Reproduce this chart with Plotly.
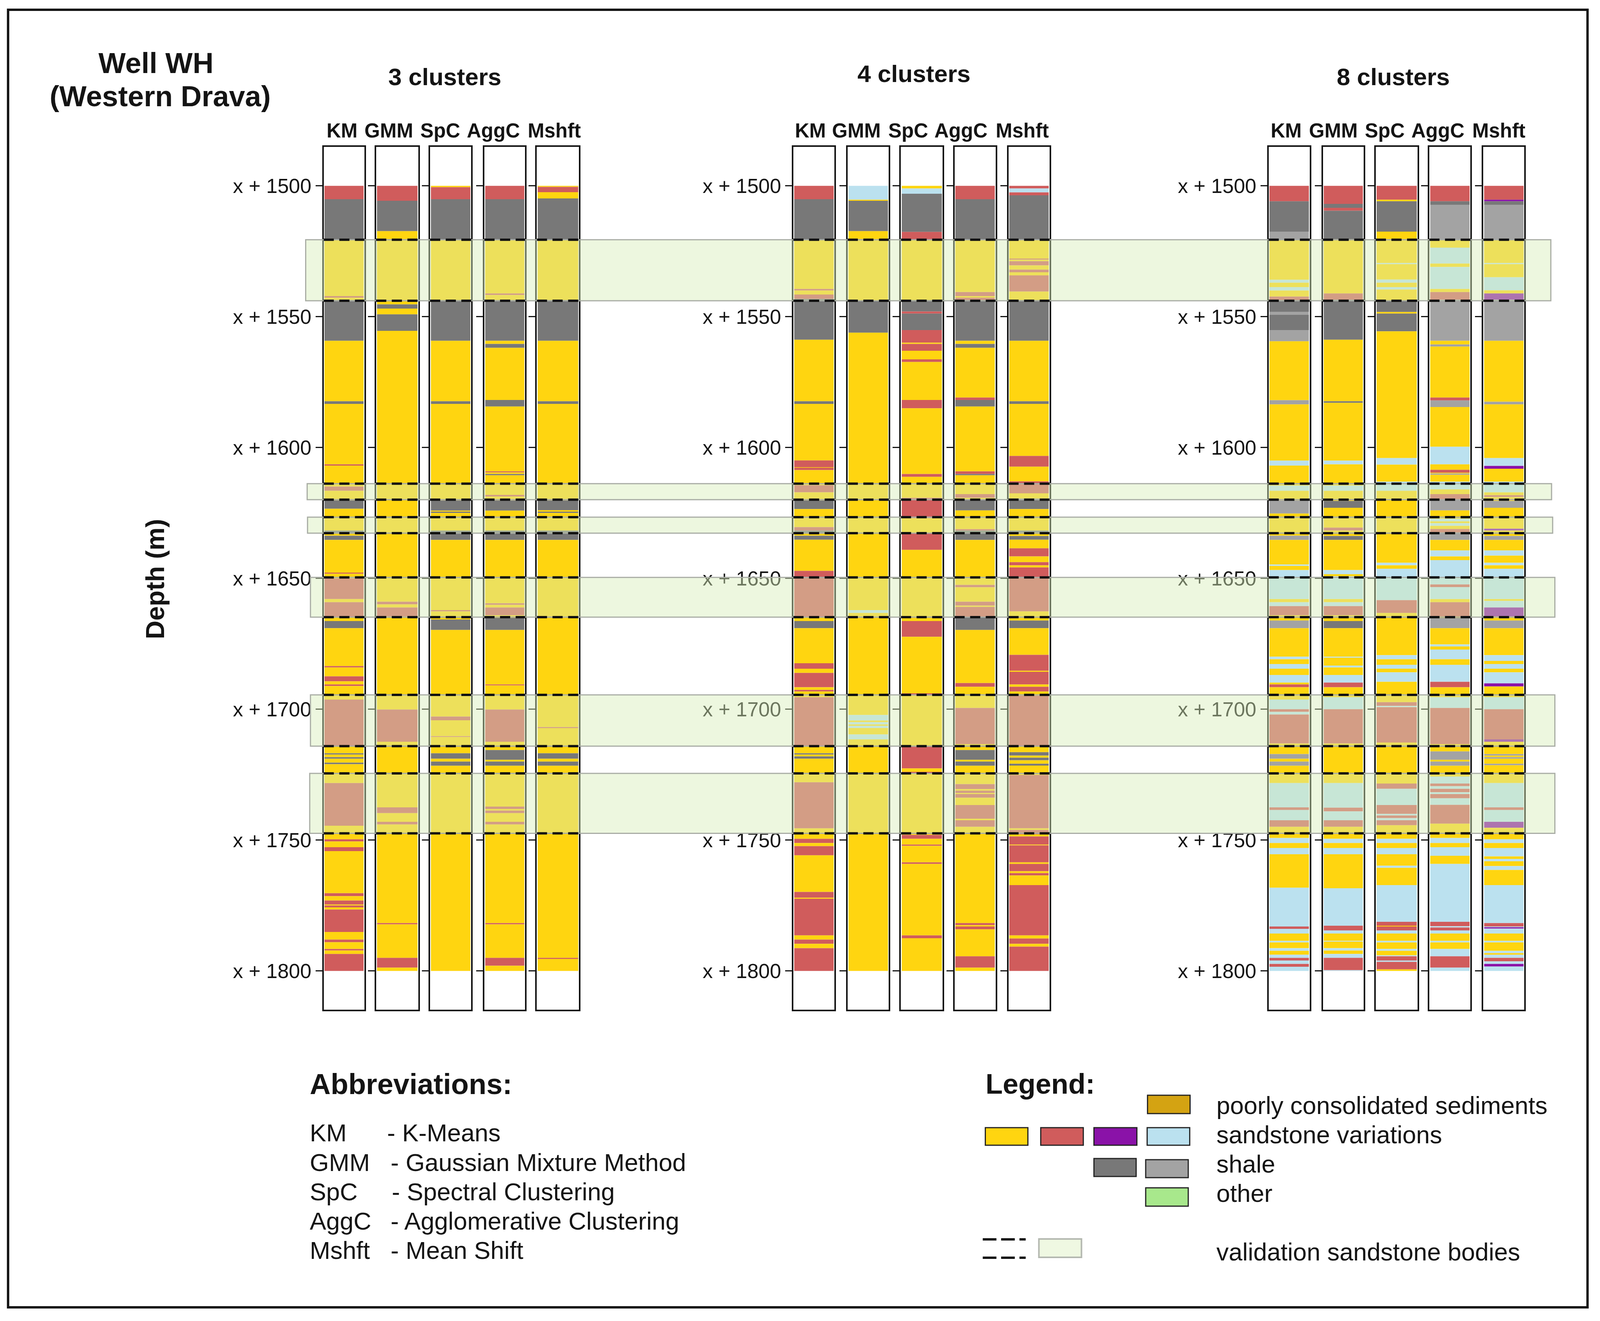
import plotly.graph_objects as go
from plotly.subplots import make_subplots

# layout numbers below are pixels of the 4360x3382 reference
W, H = 4360, 3382

# depth axis
TICK_VALUES = [1500, 1550, 1600, 1650, 1700, 1750, 1800]
TICK_LABELS = ["x + 1500", "x + 1550", "x + 1600", "x + 1650", "x + 1700", "x + 1750", "x + 1800"]
METHODS = ["KM", "GMM", "SpC", "AggC", "Mshft"]
GROUP_TITLES = ["3 clusters", "4 clusters", "8 clusters"]
END_DEPTH = 1800

# validation sandstone bodies, top and bottom depth
BAND_TOPS = [1520.6, 1613.8, 1626.6, 1649.6, 1694.5, 1724.5]
BAND_BOTTOMS = [1543.9, 1619.9, 1632.7, 1664.8, 1714.1, 1747.4]

# lithology colours: Y R P B sandstone variations, D L shale
COLORS = {"Y": "#FFD510", "R": "#D05C5C", "P": "#8A12A8", "B": "#BBE1EF", "D": "#787878", "L": "#A3A3A3"}

# each interval is (top depth, class), it ends where the next one starts
c3_km = [(1500,"R"),(1505.1,"D"),(1520.6,"Y"),(1542.1,"R"),(1542.7,"Y"),(1543.6,"D"),(1559.2,"Y"),(1582.3,"D"),(1583.3,"Y"),(1606.4,"R"),(1606.9,"Y"),(1614.9,"R"),(1616.5,"Y"),(1620.2,"D"),(1623.4,"Y"),(1631.7,"D"),(1632.6,"Y"),(1633.7,"D"),(1635.3,"Y"),(1647.8,"R"),(1648.2,"Y"),(1650,"R"),(1657.9,"Y"),(1659.1,"R"),(1664.8,"Y"),(1666.3,"D"),(1669,"Y"),(1683.5,"R"),(1684,"Y"),(1687.4,"R"),(1689.3,"Y"),(1690.5,"R"),(1691.1,"Y"),(1696.3,"R"),(1714,"Y"),(1716.8,"D"),(1717.3,"Y"),(1718.3,"D"),(1718.9,"Y"),(1720.4,"D"),(1721,"Y"),(1728.2,"R"),(1744.5,"Y"),(1749.7,"R"),(1750.5,"Y"),(1752.7,"R"),(1754.2,"Y"),(1770.3,"R"),(1771.4,"Y"),(1773.1,"R"),(1774.6,"Y"),(1775,"R"),(1775.7,"Y"),(1776.5,"R"),(1785.1,"Y"),(1788,"R"),(1789,"Y"),(1791.6,"R"),(1792.2,"Y"),(1793.5,"R")]
c3_gmm = [(1500,"R"),(1505.7,"D"),(1517.3,"Y"),(1545.3,"D"),(1546.9,"Y"),(1549.1,"D"),(1555.4,"Y"),(1658.9,"R"),(1659.9,"Y"),(1661.1,"R"),(1664.5,"Y"),(1700.1,"R"),(1712.4,"Y"),(1737.5,"R"),(1739.7,"Y"),(1743,"R"),(1744,"Y"),(1781.7,"R"),(1782.2,"Y"),(1795,"R"),(1798.7,"Y")]
c3_spc = [(1500,"Y"),(1500.5,"R"),(1505.1,"D"),(1520.6,"Y"),(1543.6,"D"),(1559.2,"Y"),(1582.3,"D"),(1583.3,"Y"),(1620.2,"D"),(1624.1,"Y"),(1624.5,"D"),(1625,"Y"),(1631.7,"D"),(1635.3,"Y"),(1662.1,"R"),(1662.6,"Y"),(1665.7,"D"),(1669.7,"Y"),(1702.8,"R"),(1704.2,"Y"),(1710.3,"R"),(1710.6,"Y"),(1716.8,"D"),(1718.9,"Y"),(1720,"D"),(1721.6,"Y")]
c3_aggc = [(1500,"R"),(1505.1,"D"),(1520.6,"Y"),(1541.1,"R"),(1541.7,"Y"),(1543.6,"D"),(1559.2,"Y"),(1560.4,"D"),(1561.9,"Y"),(1581.8,"D"),(1584.3,"Y"),(1609.1,"R"),(1609.5,"Y"),(1610.1,"D"),(1610.6,"Y"),(1618.1,"R"),(1618.7,"Y"),(1620.2,"D"),(1624.1,"Y"),(1631.7,"D"),(1635.3,"Y"),(1659.5,"R"),(1660.1,"Y"),(1661.1,"R"),(1664.1,"Y"),(1665.1,"D"),(1669.7,"Y"),(1690.5,"R"),(1690.9,"Y"),(1700.1,"R"),(1712.4,"Y"),(1715.6,"D"),(1719.3,"Y"),(1720,"D"),(1721.6,"Y"),(1737.2,"R"),(1738.1,"Y"),(1738.7,"R"),(1739.7,"Y"),(1743,"R"),(1744,"Y"),(1781.7,"R"),(1782.2,"Y"),(1795,"R"),(1798,"Y")]
c3_mshft = [(1500,"Y"),(1500.4,"R"),(1502.4,"Y"),(1504.8,"D"),(1520.6,"Y"),(1543.6,"D"),(1559.2,"Y"),(1582.3,"D"),(1583.3,"Y"),(1620.2,"D"),(1623.9,"Y"),(1624.5,"D"),(1625,"Y"),(1631.7,"D"),(1635.3,"Y"),(1706.8,"R"),(1707.2,"Y"),(1716.8,"D"),(1718.9,"Y"),(1720,"D"),(1721.6,"Y"),(1795,"R"),(1795.4,"Y")]

c4_km = [(1500,"R"),(1505.1,"D"),(1520.6,"Y"),(1539.4,"R"),(1540,"Y"),(1541.5,"R"),(1543.2,"D"),(1558.8,"Y"),(1582.3,"D"),(1583.3,"Y"),(1604.9,"R"),(1607.5,"Y"),(1607.7,"R"),(1608.6,"Y"),(1614.4,"R"),(1617.1,"Y"),(1620.2,"D"),(1623.5,"Y"),(1630.4,"R"),(1631.7,"D"),(1632.6,"Y"),(1633.7,"D"),(1635.2,"Y"),(1647.1,"R"),(1664.8,"Y"),(1666.3,"D"),(1669,"Y"),(1682.4,"R"),(1684.5,"Y"),(1686.1,"R"),(1691.6,"Y"),(1692.6,"R"),(1693.2,"Y"),(1695.4,"R"),(1714,"Y"),(1716.8,"D"),(1717.3,"Y"),(1718,"D"),(1718.9,"Y"),(1727.9,"R"),(1745.5,"Y"),(1749.5,"R"),(1751.1,"Y"),(1752.3,"R"),(1755.8,"Y"),(1769.8,"R"),(1772,"Y"),(1772.4,"R"),(1786.4,"Y"),(1788,"R"),(1789.6,"Y"),(1791.3,"R")]
c4_gmm = [(1500,"B"),(1505.3,"Y"),(1505.7,"D"),(1517.3,"Y"),(1543.9,"D"),(1556.1,"Y"),(1662.1,"B"),(1663.2,"Y"),(1702.2,"B"),(1704.3,"Y"),(1704.9,"B"),(1705.8,"Y"),(1706.3,"B"),(1707.2,"Y"),(1709.6,"B"),(1711.5,"Y")]
c4_spc = [(1500,"Y"),(1501,"B"),(1503,"D"),(1517.6,"R"),(1520.6,"Y"),(1543.6,"D"),(1548,"R"),(1548.8,"D"),(1555.1,"R"),(1559.9,"Y"),(1560.4,"R"),(1563,"Y"),(1566.3,"R"),(1567.3,"Y"),(1581.8,"R"),(1585,"Y"),(1610.1,"R"),(1611.2,"Y"),(1619.2,"R"),(1627,"Y"),(1632.7,"R"),(1639.1,"Y"),(1666.3,"R"),(1672.3,"Y"),(1693.9,"R"),(1694.8,"Y"),(1714.3,"R"),(1722.6,"Y"),(1723.9,"R"),(1724.7,"Y"),(1748,"R"),(1749.5,"Y"),(1751.7,"R"),(1752.2,"Y"),(1758.5,"R"),(1759.1,"Y"),(1786.4,"R"),(1787.5,"Y")]
c4_aggc = [(1500,"R"),(1505.1,"D"),(1520.6,"Y"),(1540.6,"R"),(1542.1,"Y"),(1542.7,"R"),(1543.6,"D"),(1559.2,"Y"),(1560.4,"D"),(1561.9,"Y"),(1580.9,"R"),(1581.8,"D"),(1584.3,"Y"),(1609.1,"R"),(1610.1,"D"),(1610.6,"Y"),(1617.8,"R"),(1619.2,"Y"),(1619.9,"D"),(1624,"Y"),(1631.2,"R"),(1631.7,"D"),(1635.3,"Y"),(1652.5,"R"),(1653.4,"Y"),(1658.9,"R"),(1660.4,"Y"),(1660.9,"R"),(1664.8,"D"),(1669.7,"Y"),(1690,"R"),(1691.4,"Y"),(1699.5,"R"),(1713.3,"Y"),(1715.6,"D"),(1719.3,"Y"),(1720,"D"),(1721.6,"Y"),(1728.6,"R"),(1730.5,"Y"),(1731.1,"R"),(1732,"Y"),(1732.4,"R"),(1733.8,"Y"),(1736.6,"R"),(1741.8,"Y"),(1742.4,"R"),(1744.9,"Y"),(1781.7,"R"),(1782.5,"Y"),(1783,"R"),(1784.1,"Y"),(1794.4,"R"),(1798.7,"Y")]
c4_mshft = [(1500,"R"),(1501,"B"),(1502.5,"R"),(1503.6,"D"),(1520.6,"Y"),(1527.8,"R"),(1528.2,"Y"),(1528.8,"R"),(1530.4,"Y"),(1532,"R"),(1533,"Y"),(1534.2,"R"),(1540.4,"Y"),(1543.6,"D"),(1559.2,"Y"),(1582.3,"D"),(1583.3,"Y"),(1603.2,"R"),(1607.3,"Y"),(1612.9,"R"),(1617.5,"Y"),(1619.5,"D"),(1623.5,"Y"),(1631.7,"D"),(1632.4,"Y"),(1633.8,"D"),(1635.2,"Y"),(1638.5,"R"),(1641.6,"Y"),(1643.8,"R"),(1645,"Y"),(1645.8,"R"),(1662.6,"Y"),(1666.1,"D"),(1669,"Y"),(1679.2,"R"),(1685.3,"Y"),(1685.7,"R"),(1690.5,"Y"),(1691.4,"R"),(1693.2,"Y"),(1694.8,"R"),(1714,"Y"),(1716.4,"D"),(1717.7,"Y"),(1718.5,"D"),(1719.5,"Y"),(1720.8,"D"),(1721.5,"Y"),(1725.1,"R"),(1745.5,"Y"),(1746.1,"R"),(1747.8,"Y"),(1748.6,"R"),(1751.7,"Y"),(1752,"R"),(1758.5,"Y"),(1759.1,"R"),(1761.9,"Y"),(1762.6,"R"),(1763.5,"Y"),(1767.2,"R"),(1786.4,"Y"),(1787.6,"R"),(1789.6,"Y"),(1790.7,"R")]

c8_km = [(1500,"R"),(1505.9,"D"),(1517.5,"L"),(1520.6,"Y"),(1535.9,"B"),(1537,"Y"),(1538.7,"B"),(1540,"Y"),(1542.3,"R"),(1543.6,"D"),(1548.2,"L"),(1549.2,"D"),(1555.1,"L"),(1559.4,"Y"),(1581.9,"L"),(1583.5,"Y"),(1605,"B"),(1606.9,"Y"),(1614.5,"B"),(1616.5,"Y"),(1620.2,"L"),(1625.2,"Y"),(1633.7,"L"),(1635.3,"Y"),(1644.7,"B"),(1645.2,"Y"),(1646.8,"B"),(1657.9,"Y"),(1659.1,"B"),(1660.6,"R"),(1664.1,"Y"),(1666.1,"L"),(1669,"Y"),(1679.9,"B"),(1680.9,"Y"),(1682.7,"B"),(1684.5,"Y"),(1686.9,"B"),(1689.8,"Y"),(1690.5,"R"),(1691.6,"Y"),(1696.3,"B"),(1700,"R"),(1701,"B"),(1702,"R"),(1713.1,"Y"),(1717.1,"L"),(1718.9,"Y"),(1720,"L"),(1721.6,"Y"),(1728.2,"B"),(1737.5,"R"),(1738.5,"B"),(1742.4,"R"),(1744.9,"Y"),(1749.2,"B"),(1751.1,"Y"),(1753,"B"),(1755.4,"Y"),(1768.2,"B"),(1783,"R"),(1783.9,"B"),(1785.7,"Y"),(1788.5,"B"),(1789.1,"Y"),(1791.3,"B"),(1792.3,"Y"),(1793.8,"B"),(1795,"R"),(1796,"B"),(1797.3,"R"),(1798.4,"B")]
c8_gmm = [(1500,"R"),(1506.9,"D"),(1508.4,"R"),(1509.5,"D"),(1520.4,"Y"),(1541.1,"R"),(1543.5,"D"),(1558.8,"Y"),(1582.3,"D"),(1582.9,"Y"),(1605,"B"),(1606.4,"Y"),(1614.5,"B"),(1616.5,"Y"),(1620.4,"D"),(1623,"Y"),(1630.6,"R"),(1631.7,"Y"),(1633.8,"D"),(1635.3,"Y"),(1646.8,"B"),(1648.4,"Y"),(1649.2,"B"),(1657.9,"Y"),(1659.1,"B"),(1660.6,"R"),(1664.1,"Y"),(1666.3,"D"),(1669,"Y"),(1679.9,"B"),(1680.3,"Y"),(1683.3,"B"),(1684,"Y"),(1686.9,"B"),(1689.8,"R"),(1691.6,"Y"),(1695.4,"B"),(1700,"R"),(1713.1,"Y"),(1728.2,"B"),(1737.6,"R"),(1739,"B"),(1742.4,"R"),(1744.9,"Y"),(1749.5,"B"),(1751.1,"Y"),(1753,"B"),(1755.4,"Y"),(1768.4,"B"),(1782.7,"R"),(1784.5,"B"),(1785.7,"Y"),(1788.5,"B"),(1788.8,"Y"),(1791.3,"B"),(1792.2,"Y"),(1793.5,"B"),(1795,"R"),(1799.7,"B")]
c8_spc = [(1500,"R"),(1505.3,"Y"),(1505.9,"D"),(1517.5,"Y"),(1529.5,"B"),(1529.9,"Y"),(1535.8,"B"),(1537,"Y"),(1538.7,"B"),(1539.6,"Y"),(1543.9,"D"),(1548.2,"Y"),(1548.8,"D"),(1555.6,"Y"),(1604,"B"),(1606.5,"Y"),(1613,"B"),(1616.5,"Y"),(1644,"B"),(1645,"Y"),(1646.3,"B"),(1658.3,"R"),(1663.2,"Y"),(1679.3,"B"),(1680.9,"Y"),(1683,"B"),(1684.5,"Y"),(1685.9,"B"),(1689.5,"Y"),(1697.3,"R"),(1698.7,"B"),(1699.2,"R"),(1712.7,"Y"),(1728.4,"R"),(1730.4,"B"),(1736.6,"R"),(1740,"B"),(1740.6,"R"),(1741.6,"B"),(1742.4,"R"),(1744.3,"Y"),(1749.5,"B"),(1751.1,"Y"),(1753,"B"),(1755.4,"Y"),(1759.8,"B"),(1760.6,"Y"),(1767.2,"B"),(1781.2,"R"),(1782.7,"Y"),(1783,"R"),(1784.5,"B"),(1785.7,"Y"),(1788.5,"B"),(1789.1,"Y"),(1791.6,"B"),(1792.3,"Y"),(1794,"B"),(1794.4,"R"),(1796,"B"),(1796.5,"R"),(1799.4,"Y")]
c8_aggc = [(1500,"R"),(1505.9,"D"),(1507.3,"L"),(1520.6,"Y"),(1523.6,"B"),(1529.7,"Y"),(1531,"B"),(1539.4,"Y"),(1540.6,"R"),(1543.5,"L"),(1559.2,"Y"),(1560.6,"L"),(1561.4,"Y"),(1580.9,"R"),(1582,"L"),(1584.5,"Y"),(1599.7,"B"),(1606.4,"Y"),(1608.5,"R"),(1609.6,"Y"),(1609.9,"L"),(1610.4,"Y"),(1613,"B"),(1616,"Y"),(1617.8,"R"),(1619.9,"L"),(1624,"Y"),(1627.2,"B"),(1628.2,"Y"),(1628.9,"B"),(1629.9,"Y"),(1631.1,"R"),(1632.4,"L"),(1635.3,"Y"),(1639.3,"B"),(1641.6,"Y"),(1643,"B"),(1652.3,"R"),(1653.3,"B"),(1657.9,"Y"),(1659.1,"R"),(1664.5,"Y"),(1665.1,"L"),(1669,"Y"),(1675.2,"B"),(1676,"Y"),(1677.2,"B"),(1680.9,"Y"),(1683,"B"),(1689.5,"R"),(1691.6,"Y"),(1695.4,"B"),(1699.5,"R"),(1713.3,"Y"),(1716.1,"L"),(1719.3,"Y"),(1720,"L"),(1721.6,"Y"),(1725.7,"B"),(1728.4,"R"),(1729.4,"B"),(1730.4,"R"),(1731.7,"B"),(1732.4,"R"),(1734,"B"),(1736.5,"R"),(1743.7,"Y"),(1749.2,"B"),(1751.1,"Y"),(1752.7,"B"),(1756,"Y"),(1759.1,"B"),(1781.2,"R"),(1782.9,"B"),(1783.4,"R"),(1784.5,"B"),(1785.7,"Y"),(1788.5,"B"),(1789.1,"Y"),(1791.6,"B"),(1794.4,"R"),(1798.7,"B")]
c8_mshft = [(1500,"R"),(1505.3,"P"),(1505.9,"D"),(1507.3,"L"),(1520.6,"Y"),(1529.5,"B"),(1529.9,"Y"),(1534.9,"B"),(1539.9,"Y"),(1541.1,"P"),(1543.5,"L"),(1559.2,"Y"),(1582.5,"L"),(1583.5,"Y"),(1604,"B"),(1607,"P"),(1608.1,"Y"),(1613,"B"),(1617.1,"Y"),(1618.2,"R"),(1618.9,"Y"),(1620.4,"L"),(1623,"Y"),(1631,"P"),(1631.7,"Y"),(1633.8,"L"),(1635.3,"Y"),(1639.3,"B"),(1641.3,"Y"),(1644,"B"),(1645,"Y"),(1646.3,"B"),(1657.9,"Y"),(1658.6,"B"),(1661.1,"P"),(1664.5,"Y"),(1666.1,"L"),(1669,"Y"),(1679.3,"B"),(1681.5,"Y"),(1682.7,"B"),(1684.5,"Y"),(1685.9,"B"),(1690.1,"P"),(1691.3,"Y"),(1695.4,"B"),(1700,"R"),(1711.5,"P"),(1712.4,"Y"),(1717.1,"L"),(1717.7,"Y"),(1718.3,"L"),(1718.9,"Y"),(1720.8,"L"),(1721.4,"Y"),(1728.2,"B"),(1737.5,"R"),(1738.5,"B"),(1743,"P"),(1745.3,"Y"),(1749.7,"B"),(1751.1,"Y"),(1753,"B"),(1756.2,"Y"),(1757.2,"B"),(1758.1,"Y"),(1759.9,"B"),(1761.4,"Y"),(1767.2,"B"),(1781.7,"R"),(1783,"B"),(1783.3,"P"),(1783.8,"B"),(1785.7,"Y"),(1788.5,"B"),(1789.1,"Y"),(1792.3,"B"),(1793.2,"Y"),(1793.8,"B"),(1795,"R"),(1796.3,"B"),(1797.3,"P"),(1798.3,"B")]

COLUMNS = [c3_km, c3_gmm, c3_spc, c3_aggc, c3_mshft,
           c4_km, c4_gmm, c4_spc, c4_aggc, c4_mshft,
           c8_km, c8_gmm, c8_spc, c8_aggc, c8_mshft]

# legend and abbreviation texts
ABBR_SHORT = ["KM", "GMM", "SpC", "AggC", "Mshft"]
ABBR_LONG = ["- K-Means", "- Gaussian Mixture Method", "- Spectral Clustering", "- Agglomerative Clustering", "- Mean Shift"]
LEGEND_TEXT = ["poorly consolidated sediments", "sandstone variations", "shale", "other", "validation sandstone bodies"]

# layout in picture pixels
COL_X = [(882, 993), (1025, 1140), (1172, 1284), (1320, 1431), (1463, 1578),
         (2162, 2274), (2310, 2422), (2455, 2569), (2601, 2713), (2748, 2860),
         (3457, 3569), (3605, 3716), (3749, 3863), (3895, 4007), (4042, 4154)]
HEADER_X = [932, 1060, 1200, 1344, 1510, 2208, 2334, 2475, 2619, 2786, 3505, 3633, 3773, 3918, 4084]
COL_TOP, COL_BOTTOM = 376, 2585
Y_RANGE = [1814.8, 1485.1]
BAND_X = [(833, 4226), (837, 4228), (838, 4231), (846, 4237), (846, 4237), (844, 4237)]
INK = "#141414"
FONT = "Liberation Sans"


def px(x):
    return x / W


def py(y):
    return 1 - y / H


fig = make_subplots(rows=1, cols=15)

# validation bodies run across all columns, on top of the bars
for k in range(len(BAND_TOPS)):
    fig.add_shape(type="rect", xref="paper", yref="y", x0=px(BAND_X[k][0]), x1=px(BAND_X[k][1]),
                  y0=BAND_TOPS[k], y1=BAND_BOTTOMS[k], fillcolor="rgba(214,238,184,0.45)",
                  line=dict(color="#A9ADA5", width=3), layer="above")

# one bar per interval, the base is the top depth
for i, col in enumerate(COLUMNS):
    tops = [t for t, _ in col]
    bottoms = tops[1:] + [END_DEPTH]
    fig.add_trace(go.Bar(x=[0.5] * len(col),
                         y=[b - t for t, b in zip(tops, bottoms)],
                         base=tops,
                         width=0.96,
                         marker=dict(color=[COLORS[c] for _, c in col], line=dict(width=0)),
                         showlegend=False),
                  row=1, col=i + 1)
    x_name = "xaxis" if i == 0 else f"xaxis{i + 1}"
    y_name = "yaxis" if i == 0 else f"yaxis{i + 1}"
    fig.update_layout({
        x_name: dict(domain=[px(COL_X[i][0]), px(COL_X[i][1])], range=[0, 1], showticklabels=False,
                     ticks="", showgrid=False, zeroline=False, showline=True, mirror=True,
                     linecolor=INK, linewidth=4),
        y_name: dict(domain=[py(COL_BOTTOM), py(COL_TOP)], range=Y_RANGE, tickvals=TICK_VALUES,
                     ticktext=TICK_LABELS, showticklabels=i % 5 == 0, ticks="outside", ticklen=17,
                     tickwidth=3, tickcolor=INK, showgrid=False, zeroline=False, showline=True,
                     mirror=True, linecolor=INK, linewidth=4,
                     tickfont=dict(size=52, color=INK, family=FONT)),
    })
    # dashed sandstone body limits inside the column
    for depth in BAND_TOPS + BAND_BOTTOMS:
        fig.add_shape(type="line", xref=f"x{i + 1}", yref=f"y{i + 1}", x0=0, x1=1, y0=depth, y1=depth,
                      line=dict(color="#111111", width=6, dash="26px,14px"), layer="above")


def note(text, x, y, size, anchor="left", angle=0):
    fig.add_annotation(text=text, xref="paper", yref="paper", x=px(x), y=py(y), showarrow=False,
                       xanchor=anchor, yanchor="middle", textangle=angle,
                       font=dict(size=size, color=INK, family=FONT))


def swatch(x0, x1, y0, y1, fill, edge="#222222", width=3):
    fig.add_shape(type="rect", xref="paper", yref="paper", x0=px(x0), x1=px(x1), y0=py(y0), y1=py(y1),
                  fillcolor=fill, line=dict(color=edge, width=width))


# titles
note("<b>Well WH</b>", 425, 161, 74, "center")
note("<b>(Western Drava)</b>", 436, 247, 74, "center")
note("<b>Depth (m)</b>", 423, 1482, 66, "center", -90)
for title, x, y in zip(GROUP_TITLES, [1212, 2491, 3797], [197, 189, 197]):
    note(f"<b>{title}</b>", x, y, 62, "center")
for i, x in enumerate(HEADER_X):
    note(f"<b>{METHODS[i % 5]}</b>", x, 335, 51, "center")

# abbreviations block
note("<b>Abbreviations:</b>", 842, 2775, 74)
for short, long, y, x in zip(ABBR_SHORT, ABBR_LONG, [2900, 2976, 3051, 3126, 3201], [1053, 1062, 1065, 1062, 1062]):
    note(short, 842, y, 63)
    note(long, x, y, 63)

# legend block
note("<b>Legend:</b>", 2683, 2775, 72)
for text, y in zip(LEGEND_TEXT, [2830, 2905, 2980, 3055, 3205]):
    note(text, 3313, y, 63)
swatch(3127, 3243, 2804, 2851, "#D4A312")
swatch(2685, 2801, 2887, 2932, COLORS["Y"])
swatch(2836, 2952, 2887, 2932, COLORS["R"])
swatch(2981, 3098, 2887, 2932, COLORS["P"])
swatch(3126, 3242, 2887, 2932, COLORS["B"])
swatch(2981, 3096, 2966, 3012, COLORS["D"])
swatch(3122, 3238, 2969, 3015, COLORS["L"])
swatch(3122, 3238, 3041, 3088, "#A8E88C")
swatch(2831, 2947, 3172, 3219, "#EFF8E2", "#B4B8B0", 4)
for y in [3173, 3220]:
    fig.add_shape(type="line", xref="paper", yref="paper", x0=px(2678), x1=px(2795), y0=py(y), y1=py(y),
                  line=dict(color="#111111", width=6, dash="35px,12px"))

# outer frame
fig.add_shape(type="rect", xref="paper", yref="paper", x0=px(22), x1=px(4326), y0=py(25), y1=py(3347),
              line=dict(color="#111111", width=6))

# no fixed width: the browser window here is narrower than asked, the figure fills what it gets
fig.update_layout(height=H, margin=dict(l=0, r=0, t=0, b=0), barmode="overlay",
                  plot_bgcolor="white", paper_bgcolor="white", showlegend=False,
                  font=dict(family=FONT, color=INK))

fig.write_html("out.html", config={"displayModeBar": False},
               post_script="document.body.style.margin='0';Plotly.Plots.resize('{plot_id}');")
